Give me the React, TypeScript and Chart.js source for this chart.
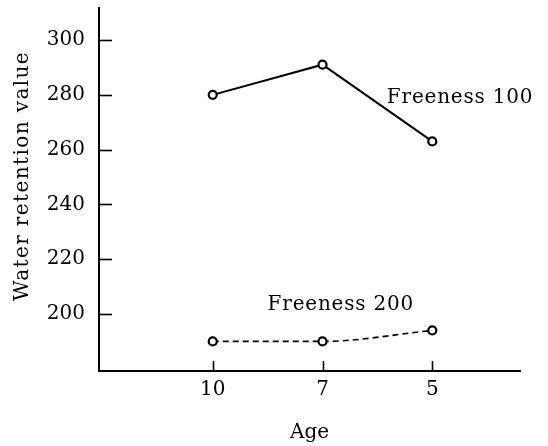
import React, { useEffect, useRef } from "react";
import { Chart, registerables } from "chart.js";

Chart.register(...registerables);

// ---- data ----
const ages = ["10", "7", "5"];
const freeness100 = [280, 291, 263];
const freeness200 = [190, 190, 194];
const yTickValues = [200, 220, 240, 260, 280, 300];
const seriesLabels = ["Freeness 100", "Freeness 200"];
const xTitle = "Age";
const yTitle = "Water retention value";

const FONT = "'DejaVu Serif', 'Liberation Serif', serif";

const decorPlugin = {
  id: "decor",
  afterDatasetsDraw(chart: any) {
    const { ctx, chartArea, scales } = chart;
    const xs = scales.x;
    const ys = scales.y;
    ctx.save();
    ctx.strokeStyle = "#000";
    ctx.lineWidth = 1.6;
    // y tick marks pointing inward
    ys.ticks.forEach((t: any) => {
      const py = Math.round(ys.getPixelForValue(t.value)) + 0.5;
      ctx.beginPath();
      ctx.moveTo(chartArea.left, py);
      ctx.lineTo(chartArea.left + 13, py);
      ctx.stroke();
    });
    // x tick marks pointing up
    xs.ticks.forEach((t: any) => {
      const px = Math.round(xs.getPixelForValue(t.value)) + 0.5;
      ctx.beginPath();
      ctx.moveTo(px, chartArea.bottom);
      ctx.lineTo(px, chartArea.bottom - 10);
      ctx.stroke();
    });
    // y axis title
    ctx.fillStyle = "#000";
    ctx.font = `20px ${FONT}`;
    (ctx as any).letterSpacing = "1.4px";
    ctx.textAlign = "center";
    ctx.textBaseline = "middle";
    ctx.translate(23, 176);
    ctx.rotate(-Math.PI / 2);
    ctx.fillText(yTitle, 0, 0);
    ctx.restore();

    // series labels
    ctx.save();
    ctx.fillStyle = "#000";
    ctx.font = `20px ${FONT}`;
    (ctx as any).letterSpacing = "0.8px";
    ctx.textAlign = "left";
    ctx.textBaseline = "middle";
    ctx.fillText(seriesLabels[0], xs.getPixelForValue(1.586), ys.getPixelForValue(278.8));
    ctx.fillText(seriesLabels[1], xs.getPixelForValue(0.5), ys.getPixelForValue(203.3));
    ctx.restore();
  },
};

export default function App() {
  const canvasRef = useRef<HTMLCanvasElement | null>(null);

  useEffect(() => {
    if (!canvasRef.current) return;
    const font = { family: FONT, size: 20 };
    const chart = new Chart(canvasRef.current, {
      type: "line",
      data: {
        datasets: [
          {
            label: seriesLabels[0],
            data: freeness100.map((v, i) => ({ x: i, y: v })),
            borderColor: "#000",
            borderWidth: 2,
            pointRadius: 4,
            pointBorderWidth: 2.2,
            pointBackgroundColor: "#fff",
            pointBorderColor: "#000",
            fill: false,
          },
          {
            label: seriesLabels[1],
            data: freeness200.map((v, i) => ({ x: i, y: v })),
            borderColor: "#000",
            borderWidth: 1.6,
            borderDash: [6, 4],
            cubicInterpolationMode: "monotone",
            pointRadius: 4,
            pointBorderWidth: 2.2,
            pointBackgroundColor: "#fff",
            pointBorderColor: "#000",
            fill: false,
          },
        ],
      },
      options: {
        animation: false,
        responsive: false,
        devicePixelRatio: 1,
        layout: { padding: { top: 8, right: 28, left: 0, bottom: 0 } },
        plugins: { legend: { display: false }, tooltip: { enabled: false } },
        scales: {
          x: {
            type: "linear",
            min: -1.036,
            max: 2.799,
            afterBuildTicks: (s: any) => {
              s.ticks = ages.map((_, i) => ({ value: i }));
            },
            afterFit: (s: any) => {
              s.height = 75;
              s.paddingLeft = 0;
              s.paddingRight = 0;
            },
            ticks: {
              callback: (v: any) => ages[v] ?? "",
              font,
              color: "#000",
              padding: 7,
              maxRotation: 0,
              autoSkip: false,
            },
            grid: { display: false, drawTicks: false },
            border: { display: true, color: "#000", width: 2 },
            title: {
              display: true,
              text: xTitle,
              font,
              color: "#000",
              padding: { top: 0, bottom: 1 },
            },
          },
          y: {
            type: "linear",
            min: 179.2,
            max: 311.7,
            afterBuildTicks: (s: any) => {
              s.ticks = yTickValues.map((v) => ({ value: v }));
            },
            afterFit: (s: any) => {
              s.width = 99;
              s.paddingTop = 0;
              s.paddingBottom = 0;
            },
            ticks: { font, color: "#000", padding: 14 },
            grid: { display: false, drawTicks: false },
            border: { display: true, color: "#000", width: 2 },
          },
        },
      },
      plugins: [decorPlugin],
    } as any);
    return () => chart.destroy();
  }, []);

  return (
    <div style={{ position: "absolute", left: 0, top: 0, width: 548, height: 446, background: "#fff" }}>
      <canvas ref={canvasRef} width={548} height={446} style={{ display: "block" }} />
    </div>
  );
}
